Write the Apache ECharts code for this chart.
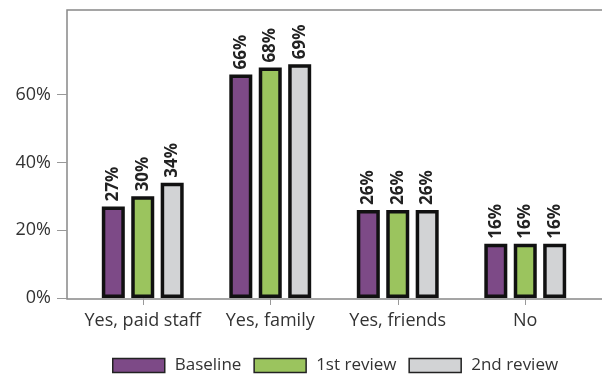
<!DOCTYPE html>
<html>
<head>
<meta charset="utf-8">
<script src="https://cdn.jsdelivr.net/npm/echarts@6/dist/echarts.min.js"></script>
<style>
  html, body { margin: 0; padding: 0; background: #fff; }
  #chart { width: 602px; height: 374px; }
</style>
</head>
<body>
<div id="chart"></div>
<script>
var categories = ['Yes, paid staff', 'Yes, family', 'Yes, friends', 'No'];
var baseline = [27, 66, 26, 16];
var review1 = [30, 68, 26, 16];
var review2 = [34, 69, 26, 16];
var yTicks = [0, 20, 40, 60];

var font = 'Open Sans';

function makeSeries(name, data, color) {
    return {
        name: name,
        type: 'bar',
        data: data,
        barWidth: 23,
        barGap: '28%',
        itemStyle: {
            color: color,
            borderColor: '#111',
            borderWidth: 3.5
        },
        label: {
            show: true,
            position: 'top',
            rotate: 90,
            align: 'left',
            verticalAlign: 'middle',
            distance: 5,
            formatter: '{c}%',
            fontFamily: font,
            fontWeight: 'bold',
            fontSize: 17,
            color: '#222'
        }
    };
}

var chart = echarts.init(document.getElementById('chart'));
var option = {
    animation: false,
    textStyle: { fontFamily: font },
    grid: { left: 79, right: 13, top: 10, bottom: 76 },
    graphic: [{
        type: 'rect',
        shape: { x: 67, y: 10, width: 560, height: 289 },
        style: { fill: null, stroke: '#888', lineWidth: 1.5 },
        z: 0
    }],
    legend: {
        top: 352,
        left: 107,
        icon: 'rect',
        itemWidth: 52,
        itemHeight: 14,
        itemGap: 12,
        itemStyle: { borderWidth: 1.5, borderColor: '#222' },
        textStyle: { fontFamily: font, fontSize: 17, color: '#333', padding: [0, 0, 0, 5] }
    },
    xAxis: {
        type: 'category',
        data: categories,
        offset: 3,
        axisLine: { show: false },
        axisTick: { show: true, alignWithLabel: true, length: 7, lineStyle: { color: '#999' } },
        axisLabel: { interval: 0, fontFamily: font, fontSize: 18, color: '#333', margin: 11 }
    },
    yAxis: {
        type: 'value',
        min: 0,
        max: 85,
        interval: 20,
        offset: 12,
        splitLine: { show: false },
        axisLine: { show: false },
        axisTick: { show: true, length: 10, customValues: yTicks, lineStyle: { color: '#999' } },
        axisLabel: {
            customValues: yTicks,
            formatter: '{value}%',
            fontFamily: font,
            fontSize: 18,
            color: '#333',
            margin: 16
        }
    },
    series: [
        makeSeries('Baseline', baseline, '#7d4a87'),
        makeSeries('1st review', review1, '#9bc45e'),
        makeSeries('2nd review', review2, '#d2d3d5')
    ]
};
chart.setOption(option);
</script>
</body>
</html>
